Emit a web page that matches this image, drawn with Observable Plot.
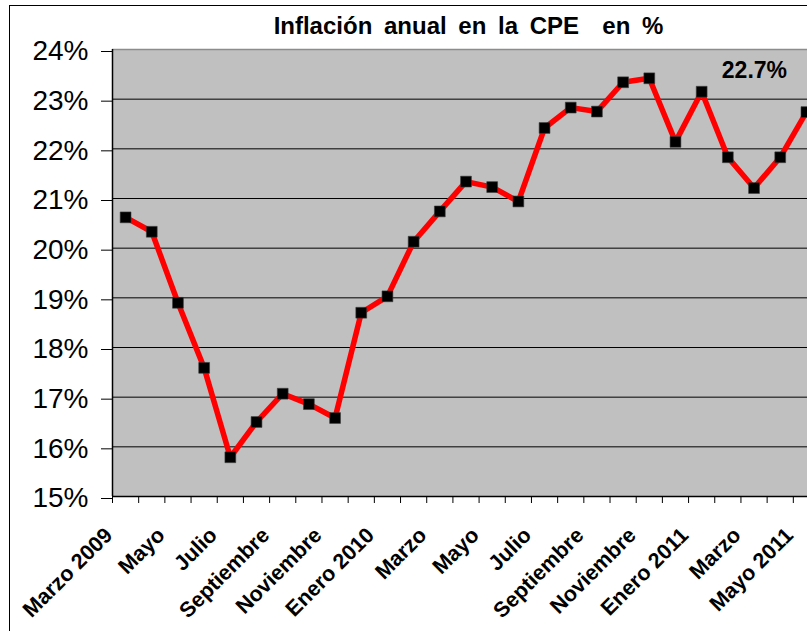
<!DOCTYPE html>
<html>
<head>
<meta charset="utf-8">
<script src="https://cdn.jsdelivr.net/npm/d3@7"></script>
<script src="https://cdn.jsdelivr.net/npm/@observablehq/plot@0.6"></script>
<style>
  html, body { margin: 0; padding: 0; width: 807px; height: 631px; overflow: hidden; background: #fff; }
  body { position: relative; font-family: "Liberation Sans", Arial, sans-serif; }
  #border { position: absolute; left: 9px; top: 5px; width: 900px; height: 800px; border-left: 1px solid #000; border-top: 1px solid #000; }
  #title { position: absolute; left: 0; top: 14px; width: 937px; text-align: center; font-size: 24px; line-height: 24px; font-weight: bold; word-spacing: 5px; color: #000; white-space: pre; }
  #chart { position: absolute; left: 0; top: 20px; width: 830px; }
  #chart svg { max-width: none !important; background: transparent !important; }
</style>
</head>
<body>
<div id="border"></div>
<div id="title">Inflación anual en la CPE  en %</div>
<div id="chart"></div>
<script>
// Months (March 2009 – May 2011)
const months = ["Marzo 2009","Abril","Mayo","Junio","Julio","Agosto","Septiembre","Octubre","Noviembre","Diciembre",
  "Enero 2010","Febrero","Marzo","Abril","Mayo","Junio","Julio","Agosto","Septiembre","Octubre","Noviembre","Diciembre",
  "Enero 2011","Febrero","Marzo","Abril","Mayo 2011"];
// Annual inflation, %
const inflation = [20.62,20.33,18.90,17.59,15.79,16.50,17.07,16.86,16.58,18.70,
  19.03,20.13,20.74,21.34,21.23,20.94,22.42,22.83,22.75,23.34,23.42,22.14,
  23.15,21.83,21.21,21.83,22.74];
// Axis labels shown every other month
const labelIndex = [0,2,4,6,8,10,12,14,16,18,20,22,24,26];
const yTicks = [15,16,17,18,19,20,21,22,23,24];
const gridTicks = [16,17,18,19,20,21,22,23];

const data = months.map((m, i) => ({i, month: m, value: inflation[i]}));
const last = data[data.length - 1];
const boundaries = d3.range(0, months.length + 1);

const chart = Plot.plot({
  width: 830,
  height: 611,
  marginLeft: 112,
  marginRight: 11,
  marginTop: 29,
  marginBottom: 135,
  style: {fontFamily: "'Liberation Sans', Arial, sans-serif", background: "transparent", maxWidth: "none"},
  x: {type: "linear", domain: [0, months.length], axis: null},
  y: {domain: [15, 24], axis: null},
  marks: [
    Plot.frame({fill: "#c0c0c0", stroke: null}),
    Plot.ruleY(gridTicks, {stroke: "#000", strokeWidth: 1}),
    Plot.ruleY([24], {stroke: "#8c8c8c", strokeWidth: 1.5}),
    Plot.ruleY([15], {stroke: "#000", strokeWidth: 1.5}),
    Plot.ruleX([0], {stroke: "#000", strokeWidth: 1.5}),
    Plot.axisY({ticks: yTicks, tickFormat: d => d + "%", tickSize: 11, tickPadding: 13,
      fontSize: 28, dy: 2, label: null, stroke: "#000"}),
    Plot.axisX({ticks: boundaries, tickFormat: () => "", tickSize: 7, label: null, stroke: "#000"}),
    Plot.text(labelIndex, {x: i => i + 0.5, text: i => months[i], frameAnchor: "bottom",
      rotate: -45, textAnchor: "end", lineAnchor: "bottom", dx: -12, dy: 40,
      fontSize: 21.5, fontWeight: "bold", fill: "#000"}),
    Plot.line(data, {x: d => d.i + 0.5, y: "value", stroke: "#ff0000", strokeWidth: 5.5, strokeLinejoin: "miter"}),
    Plot.dot(data, {x: d => d.i + 0.5, y: "value", symbol: "square", r: 6.1, fill: "#000", stroke: "#3a3a3a", strokeWidth: 0.6}),
    Plot.text([last], {x: d => d.i + 0.5, y: "value", text: d => d3.format(".1f")(d.value) + "%",
      dx: -52, dy: -34, lineAnchor: "bottom", textAnchor: "middle", fontSize: 23, fontWeight: "bold", fill: "#000"})
  ]
});
chart.style.maxWidth = "none";
document.getElementById("chart").appendChild(chart);
</script>
</body>
</html>
